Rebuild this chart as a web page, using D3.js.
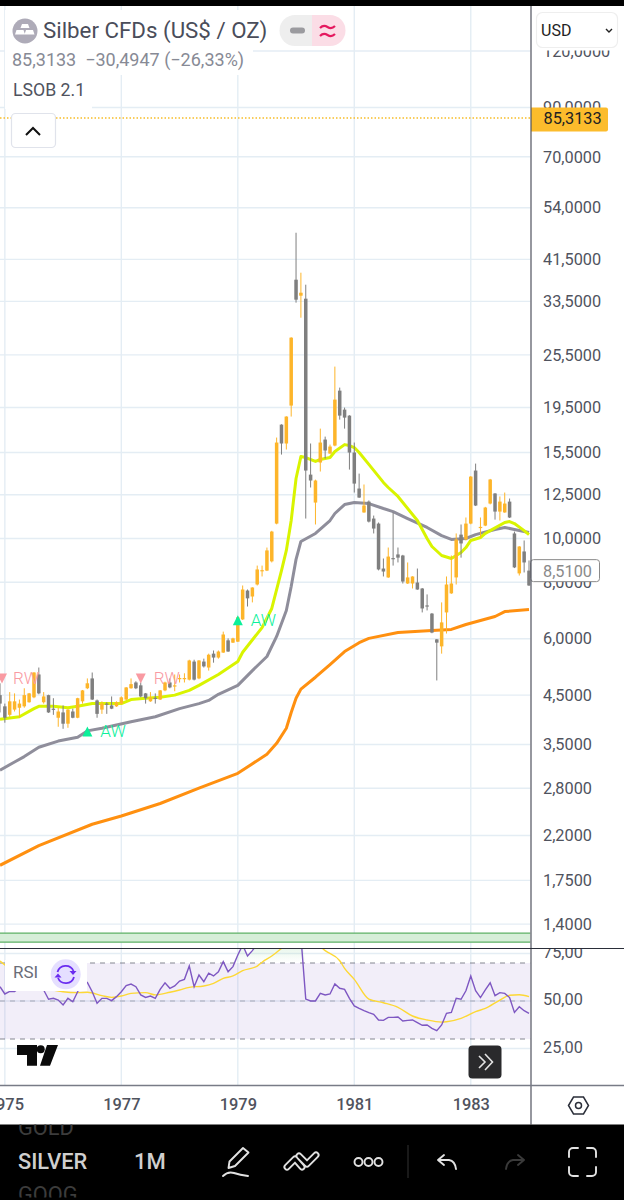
<!DOCTYPE html>
<html>
<head>
<meta charset="utf-8">
<script src="https://cdn.jsdelivr.net/npm/d3@7"></script>
<style>
  html, body { margin: 0; padding: 0; background: #fff; }
  svg { display: block; font-family: Roboto, sans-serif; }
</style>
</head>
<body>
<div id="chart"></div>
<script>
// monthly candles, index 0 = Dec 1974
const opens = [4.50,4.25,4.07,4.18,4.22,4.25,4.34,4.45,5.00,4.34,4.50,4.20,4.01,4.12,3.89,4.14,4.01,4.36,4.66,4.90,
  4.38,4.18,4.31,4.27,4.25,4.31,4.40,4.66,4.80,4.73,4.54,4.36,4.44,4.40,4.61,4.80,4.71,4.89,4.89,4.87,
  5.34,4.90,5.34,5.18,5.56,5.45,5.59,5.95,5.88,5.91,6.62,7.67,7.44,7.91,8.47,8.49,8.90,10.79,17.87,16.23,
  19.69,37.41,34.48,33.96,13.85,12.01,14.73,16.56,15.42,16.06,21.25,19.29,18.71,15.50,12.90,11.42,12.07,11.07,10.79,8.58,
  8.20,9.05,9.22,9.17,7.95,7.95,7.99,7.75,7.11,6.82,5.98,5.77,6.86,7.56,8.20,10.20,9.95,10.79,14.14,10.55,
  10.68,11.95,12.58,11.47,11.42,12.07,10.26,8.37,9.36,8.49];
const highs = [4.78,4.31,4.57,4.54,4.40,4.66,4.55,5.06,5.18,4.57,4.51,4.43,4.22,4.27,4.19,4.20,4.44,4.62,4.90,5.05,
  4.40,4.36,4.34,4.47,4.36,4.47,4.69,4.90,4.83,4.80,4.55,4.57,4.54,4.62,4.82,4.90,5.00,5.00,5.03,5.39,
  5.39,5.38,5.42,5.56,5.65,5.65,6.22,6.01,6.03,6.71,7.87,7.71,7.80,8.71,8.71,9.55,10.40,16.73,17.90,18.65,
  27.90,47.53,38.77,36.47,16.23,13.50,17.51,16.81,16.14,24.02,21.58,19.49,18.75,16.31,13.92,13.17,12.14,11.24,10.85,9.03,
  9.55,11.42,9.55,9.20,8.85,8.25,8.58,7.77,7.52,6.84,5.99,7.22,8.24,9.17,10.26,10.74,11.13,13.75,14.65,11.13,
  11.75,13.55,12.60,12.39,12.64,12.26,10.36,9.62,9.90,8.94];
const lows = [4.12,3.91,4.03,4.14,4.01,4.22,4.33,4.43,4.52,4.31,4.11,4.07,3.83,3.79,3.81,4.00,4.00,4.31,4.64,4.39,
  4.01,4.09,4.09,4.19,4.24,4.29,4.39,4.65,4.64,4.45,4.31,4.35,4.31,4.39,4.59,4.66,4.59,4.80,4.80,4.85,
  4.85,4.88,5.18,5.10,5.31,5.42,5.58,5.61,5.87,5.90,6.60,7.07,7.22,7.87,8.24,8.47,8.85,10.75,15.34,15.74,
  18.62,33.28,30.82,11.07,12.97,10.74,14.07,15.03,15.40,16.00,18.33,17.51,14.21,12.64,12.30,11.40,10.85,10.26,8.50,8.24,
  8.18,8.71,8.85,7.95,7.93,7.75,7.70,6.86,6.93,6.17,4.85,5.56,6.16,7.54,7.91,9.07,9.90,10.75,11.80,10.05,
  10.65,11.90,11.01,10.96,11.40,11.10,8.60,8.28,8.41,7.85];
const closes = [4.31,4.01,4.36,4.36,4.31,4.50,4.54,5.05,4.54,4.47,4.12,4.18,4.14,3.89,4.18,4.01,4.43,4.61,4.78,4.40,
  4.09,4.31,4.29,4.20,4.34,4.45,4.68,4.76,4.66,4.47,4.43,4.45,4.42,4.61,4.80,4.68,4.73,4.91,4.91,5.37,
  4.87,5.37,5.21,5.53,5.45,5.62,6.13,5.62,6.01,6.69,7.71,7.37,7.79,8.54,8.51,9.41,10.36,16.31,16.23,18.62,
  27.84,33.79,35.01,14.14,13.44,13.44,16.31,15.66,15.98,20.30,18.71,18.52,15.50,13.23,12.32,11.83,10.90,10.52,8.54,8.45,
  9.12,9.01,9.07,8.03,8.20,8.24,7.71,7.00,7.09,6.19,5.88,6.52,7.91,7.95,9.95,9.75,10.79,13.71,11.83,10.61,
  11.71,13.51,11.47,12.07,11.95,11.13,8.63,9.60,8.85,7.87];

const emaFastIdx = [0,4,7,8,11,14,16,19,22,25,27,30,33,36,39,41,45,49,50,54,56,58,59,60,61,62,63,65,66,68,69,71,72,73,74,76,79,80,82,86,88,89,91,93,95,96,97,99,100,101,104,105,106,108,109];
const emaFast = [3.98,4.03,4.20,4.25,4.25,4.22,4.25,4.31,4.31,4.31,4.40,4.43,4.45,4.50,4.61,4.73,5.00,5.34,5.60,6.35,7.00,8.49,9.41,10.96,13.58,15.19,15.11,14.81,14.96,15.11,15.58,16.14,16.06,15.90,15.50,14.59,13.31,12.97,12.39,10.96,10.00,9.60,9.17,9.03,9.31,9.55,9.90,10.05,10.26,10.41,10.85,10.90,10.79,10.41,10.20];
const emaMidIdx = [0,3,5,8,12,16,18,21,27,32,37,41,43,45,49,52,55,57,59,60,61,62,65,68,69,71,73,76,79,81,84,88,91,93,96,98,102,104,106,109];
const emaMid = [3.07,3.20,3.29,3.45,3.56,3.63,3.75,3.80,3.93,4.03,4.20,4.31,4.38,4.52,4.73,5.10,5.48,6.07,6.93,7.83,8.99,9.85,10.26,10.96,11.36,11.89,12.01,11.95,11.65,11.47,11.07,10.58,10.15,9.95,10.00,10.20,10.47,10.58,10.47,10.31];
const emaSlowIdx = [0,8,19,25,33,41,49,55,57,59,60,61,62,65,68,71,74,76,82,89,93,96,102,104,109];
const emaSlow = [1.89,2.09,2.33,2.43,2.59,2.80,3.02,3.33,3.52,3.80,4.12,4.43,4.64,4.93,5.26,5.62,5.88,6.01,6.19,6.26,6.29,6.45,6.72,6.89,6.96];

// RSI per month, the part above the pane is a guess
const rsiValues = [57.5,53.7,55,55,57,60,58,63,60,55.8,50.9,51.4,50.5,47.9,51.4,49.6,54.9,60,59.8,54.9,
  48.8,51.4,51.4,50.2,52.3,54.9,58.1,58.9,57.5,53.2,51.9,52.6,51.4,56.1,59.6,56.7,57.9,60.5,61.4,68.4,
  57.5,63.7,60.2,64.6,63.2,65.4,70.7,65.4,68.1,74.2,79.5,73.7,76.5,80,78,82,84,88,85,86,
  90,88,84,51,50,50,54,53.2,53.7,59,56.7,56.1,51.4,47.4,46.1,44.9,43.9,43,40,39.8,
  41.4,41.4,41.6,39.5,39.8,40,38.6,37.2,37.4,35.6,34.4,37.4,43.5,44,51.4,50.9,55.4,63.2,55.4,51.8,
  55.8,59.6,52.8,54.4,54,51.8,44,47,44.9,43.5];
const rsiMaIdx = [0,1,4,8,13,16,18,21,23,25,27,30,32,35,37,39,42,44,46,48,50,53,54,56,58,60,63,65,67,70,71,73,76,79,82,85,88,91,92,95,98,100,103,105,107,109];
const rsiMa = [71,69,64,58,54.9,54.4,54.6,52.8,51.9,52.6,54,54.4,53.2,54.6,55.8,57.2,57.9,59.3,61.9,63.2,66,68.4,70.4,73.7,77.7,82,84,81,76.5,71.2,67.2,61.4,51,49.1,46.7,42.1,40,38.9,39.1,40.9,44.4,46.1,50.5,53,53.3,52.3];

const priceTicks = [120,90,70,54,41.5,33.5,25.5,19.5,15.5,12.5,10,8,6,4.5,3.5,2.8,2.2,1.75,1.4];
const rsiTicks = [75,50,25];
const rsiLevels = [70,50,30];
const yearIdx = [1,25,49,73,97];
const yearLabels = ['1975','1977','1979','1981','1983'];
const zonePrices = [1.337,1.277];

const signalNames = ['RW','AW','RW','AW'];
const signalIdx = [0,18,29,49];
const signalPrices = [4.90,3.74,4.90,6.59];

const lastPrice = 85.3133;
const markPrice = 8.51;

const width = 624;
const height = 1200;
const paneRight = 530.5;
const axisX = 531;
const mainTop = 6;
const mainBottom = 948.5;
const rsiBottom = 1085.5;
const barBottom = 1124.5;

const colors = {
  grid: '#e4edf4',
  up: '#fdb52a',
  down: '#7f7f7f',
  fast: '#d9f400',
  mid: '#8f8e9b',
  slow: '#ff9010',
  text: '#50535e',
  rsi: '#7e57c2',
  rsiMa: '#fdd835',
  sell: '#f99aa2',
  buy: '#0cf09a',
};

const comma = d3.formatLocale({ decimal: ',', thousands: '.', grouping: [3], currency: ['', ''] });
const fmtPrice = comma.format('.4f');
const fmtRsi = comma.format('.2f');

const x = d3.scaleLinear().domain([0, 109]).range([0, 529]);
const y = d3.scaleLog().domain([10, 90]).range([538.5, 107.5]);
const yRsi = d3.scaleLinear().domain([50, 70]).range([1001, 963]);

const svg = d3.select('#chart').append('svg')
  .attr('width', width)
  .attr('height', height)
  .attr('viewBox', `0 0 ${width} ${height}`);

const defs = svg.append('defs');
defs.append('clipPath').attr('id', 'clip-main').append('rect')
  .attr('x', 0).attr('y', mainTop).attr('width', paneRight).attr('height', mainBottom - mainTop);
defs.append('clipPath').attr('id', 'clip-rsi').append('rect')
  .attr('x', 0).attr('y', mainBottom).attr('width', paneRight).attr('height', rsiBottom - mainBottom);
defs.append('clipPath').attr('id', 'clip-rsi-axis').append('rect')
  .attr('x', axisX).attr('y', mainBottom).attr('width', width - axisX).attr('height', rsiBottom - mainBottom);
const grad = defs.append('linearGradient').attr('id', 'ob-fill')
  .attr('x1', 0).attr('x2', 0).attr('y1', 0).attr('y2', 1);
grad.append('stop').attr('offset', '0%').attr('stop-color', '#9bd8a8').attr('stop-opacity', 0.55);
grad.append('stop').attr('offset', '100%').attr('stop-color', '#9bd8a8').attr('stop-opacity', 0);

// grid
const gridG = svg.append('g').attr('stroke', colors.grid).attr('stroke-width', 1.4);
gridG.selectAll('.h-price').data(priceTicks).enter().append('line')
  .attr('x1', 0).attr('x2', paneRight)
  .attr('y1', (d) => y(d)).attr('y2', (d) => y(d))
  .attr('clip-path', 'url(#clip-main)');
gridG.selectAll('.h-rsi').data(rsiTicks).enter().append('line')
  .attr('x1', 0).attr('x2', paneRight)
  .attr('y1', (d) => yRsi(d)).attr('y2', (d) => yRsi(d))
  .attr('clip-path', 'url(#clip-rsi)');
gridG.selectAll('.v').data(yearIdx).enter().append('line')
  .attr('x1', (d) => x(d)).attr('x2', (d) => x(d))
  .attr('y1', mainTop).attr('y2', rsiBottom);

// main pane
const main = svg.append('g').attr('clip-path', 'url(#clip-main)');

main.append('rect')
  .attr('x', 0).attr('width', paneRight)
  .attr('y', y(zonePrices[0]))
  .attr('height', y(zonePrices[1]) - y(zonePrices[0]))
  .attr('fill', '#d6eed8');
main.selectAll('.zone-line').data(zonePrices).enter().append('line')
  .attr('x1', 0).attr('x2', paneRight)
  .attr('y1', (d) => y(d)).attr('y2', (d) => y(d))
  .attr('stroke', '#5cb065').attr('stroke-width', 1.2);

const maLine = d3.line()
  .x((d) => x(d[0]))
  .y((d) => y(d[1]))
  .curve(d3.curveLinear);

const maSeries = [
  [emaSlowIdx, emaSlow, colors.slow],
  [emaMidIdx, emaMid, colors.mid],
  [emaFastIdx, emaFast, colors.fast],
];
maSeries.forEach(([idx, vals, col]) => {
  main.append('path')
    .attr('d', maLine(idx.map((d, i) => [d, vals[i]])))
    .attr('fill', 'none')
    .attr('stroke', col)
    .attr('stroke-width', 3)
    .attr('stroke-linejoin', 'round');
});

const candles = opens.map((o, i) => ({ i, o, h: highs[i], l: lows[i], c: closes[i] }));
const candleColor = (d) => (d.c >= d.o ? colors.up : colors.down);

main.selectAll('.wick').data(candles).enter().append('line')
  .attr('x1', (d) => x(d.i)).attr('x2', (d) => x(d.i))
  .attr('y1', (d) => y(d.h)).attr('y2', (d) => y(d.l))
  .attr('stroke', candleColor)
  .attr('stroke-width', 1);
main.selectAll('.body').data(candles).enter().append('rect')
  .attr('x', (d) => x(d.i) - 1.75)
  .attr('width', 3.5)
  .attr('y', (d) => y(Math.max(d.o, d.c)))
  .attr('height', (d) => Math.max(1.2, Math.abs(y(d.o) - y(d.c))))
  .attr('fill', candleColor);

// LSOB signals
const signals = signalNames.map((name, i) => ({ name, i: signalIdx[i], p: signalPrices[i] }));
const sigG = main.selectAll('.signal').data(signals).enter().append('g')
  .attr('transform', (d) => `translate(${x(d.i)},${y(d.p)})`);
sigG.append('path')
  .attr('d', (d) => (d.name === 'RW' ? 'M-5,-5 L5,-5 L0,5 Z' : 'M-5,5 L5,5 L0,-5 Z'))
  .attr('transform', (d) => (d.i === 0 ? 'translate(2,0)' : null))
  .attr('fill', (d) => (d.name === 'RW' ? colors.sell : colors.buy));
sigG.append('text')
  .attr('x', 13)
  .attr('y', 6)
  .attr('font-size', 17)
  .attr('font-weight', 300)
  .attr('fill', (d) => (d.name === 'RW' ? colors.sell : colors.buy))
  .text((d) => d.name);

main.append('line')
  .attr('x1', 0).attr('x2', paneRight)
  .attr('y1', y(lastPrice)).attr('y2', y(lastPrice))
  .attr('stroke', '#f7bd28')
  .attr('stroke-width', 1.5)
  .attr('stroke-dasharray', '1.5 2');

// RSI pane
const rsi = svg.append('g').attr('clip-path', 'url(#clip-rsi)');
rsi.append('rect')
  .attr('x', 0).attr('width', paneRight)
  .attr('y', yRsi(rsiLevels[0]))
  .attr('height', yRsi(rsiLevels[2]) - yRsi(rsiLevels[0]))
  .attr('fill', '#7e57c2')
  .attr('fill-opacity', 0.1);

const obArea = d3.area()
  .x((d, i) => x(i))
  .y0(yRsi(rsiLevels[0]))
  .y1((d) => yRsi(Math.max(d, rsiLevels[0])));
rsi.append('path')
  .attr('d', obArea(rsiValues))
  .attr('fill', 'url(#ob-fill)');

rsi.selectAll('.level').data(rsiLevels).enter().append('line')
  .attr('x1', 0).attr('x2', paneRight)
  .attr('y1', (d) => yRsi(d)).attr('y2', (d) => yRsi(d))
  .attr('stroke', '#787b86')
  .attr('stroke-opacity', (d) => (d === 50 ? 0.55 : 0.9))
  .attr('stroke-width', 1.2)
  .attr('stroke-dasharray', '5 5');

rsi.append('path')
  .attr('d', d3.line().x((d) => x(d[0])).y((d) => yRsi(d[1])).curve(d3.curveMonotoneX)(rsiMaIdx.map((d, i) => [d, rsiMa[i]])))
  .attr('fill', 'none')
  .attr('stroke', colors.rsiMa)
  .attr('stroke-width', 1.4);
rsi.append('path')
  .attr('d', d3.line().x((d, i) => x(i)).y((d) => yRsi(d))(rsiValues))
  .attr('fill', 'none')
  .attr('stroke', colors.rsi)
  .attr('stroke-width', 1.4);

// legend block
const legend = svg.append('g');
legend.append('rect').attr('x', 5).attr('y', 10).attr('width', 345).attr('height', 38).attr('fill', '#fff');
legend.append('rect').attr('x', 5).attr('y', 47).attr('width', 248).attr('height', 28).attr('fill', '#fff');
legend.append('rect').attr('x', 5).attr('y', 75).attr('width', 87).attr('height', 34).attr('fill', '#fff');

legend.append('circle').attr('cx', 25).attr('cy', 31).attr('r', 12.5).attr('fill', '#aeabb8');
legend.append('path')
  .attr('d', 'M22,24 h6 l1.5,4 h-9 Z M16.5,30 h7 l1.5,4.5 h-10 Z M26,30 h7 l1.5,4.5 h-10 Z')
  .attr('fill', '#fff');
legend.append('text')
  .attr('x', 43).attr('y', 38)
  .attr('font-size', 22.3)
  .attr('fill', '#4a4d5a')
  .text('Silber CFDs (US$ / OZ)');

legend.append('path')
  .attr('d', 'M312,15 h-17 a15.5,15.5 0 0 0 0,31 h17 Z')
  .attr('fill', '#eeeeee');
legend.append('path')
  .attr('d', 'M312,15 h18 a15.5,15.5 0 0 1 0,31 h-18 Z')
  .attr('fill', '#fbdde6');
legend.append('rect')
  .attr('x', 290).attr('y', 27.5).attr('width', 15).attr('height', 6).attr('rx', 3)
  .attr('fill', '#9b9b9f');
legend.append('path')
  .attr('d', 'M320,28 q3.5,-3.5 7.5,-1 t7.5,-1 M320,36 q3.5,-3.5 7.5,-1 t7.5,-1')
  .attr('fill', 'none')
  .attr('stroke', '#e5195f')
  .attr('stroke-width', 2.2);

legend.append('text')
  .attr('x', 12).attr('y', 66)
  .attr('font-size', 18)
  .attr('fill', '#878a95')
  .attr('xml:space', 'preserve')
  .text('85,3133  −30,4947 (−26,33%)');
legend.append('text')
  .attr('x', 13).attr('y', 96)
  .attr('font-size', 17.7)
  .attr('fill', colors.text)
  .text('LSOB 2.1');

legend.append('rect')
  .attr('x', 11.5).attr('y', 113.5).attr('width', 44).attr('height', 34).attr('rx', 4)
  .attr('fill', '#fff').attr('stroke', '#e0e3eb').attr('stroke-width', 1.2);
legend.append('path')
  .attr('d', 'M26,135 L33,128 L40,135')
  .attr('fill', 'none').attr('stroke', '#111').attr('stroke-width', 2);

// RSI badge
const badge = svg.append('g');
badge.append('rect').attr('x', 5).attr('y', 960).attr('width', 82).attr('height', 31).attr('fill', '#fff');
badge.append('text')
  .attr('x', 13).attr('y', 978)
  .attr('font-size', 17)
  .attr('fill', '#6a6d78')
  .text('RSI');
badge.append('circle').attr('cx', 65.7).attr('cy', 974.3).attr('r', 15).attr('fill', '#e5dfff');
badge.append('path')
  .attr('d', 'M57.5,972 a8.5,8.5 0 0 1 16,-1 M74,977 a8.5,8.5 0 0 1 -16,1')
  .attr('fill', 'none').attr('stroke', '#6a2cf0').attr('stroke-width', 1.8);
badge.append('path')
  .attr('d', 'M69.5,971 h7 l-3.5,4 Z M54.5,977.5 h7 l-3.5,-4 Z')
  .attr('fill', '#6a2cf0');

// logo and go-to-now button
svg.append('path')
  .attr('d', 'M17,1045 h20 v20.7 h-10 v-10.7 h-10 Z M47,1045 h11 l-8,20.7 h-10 Z')
  .attr('fill', '#0a0a0a');
svg.append('circle').attr('cx', 40.7).attr('cy', 1049.3).attr('r', 4).attr('fill', '#0a0a0a');
svg.append('rect')
  .attr('x', 468.5).attr('y', 1045.5).attr('width', 33).attr('height', 33).attr('rx', 4)
  .attr('fill', '#2a2a2c');
svg.append('path')
  .attr('d', 'M479,1056 l6,6 l-6,6 M485,1054 l7.5,8 l-7.5,8')
  .attr('fill', 'none').attr('stroke', '#e4e4e4').attr('stroke-width', 1.6);

// price axis
const axisPanel = svg.append('g');
axisPanel.append('rect')
  .attr('x', axisX).attr('y', mainTop).attr('width', width - axisX).attr('height', rsiBottom - mainTop)
  .attr('fill', '#fff');

const priceAxis = d3.axisRight(y)
  .tickValues(priceTicks)
  .tickFormat((d) => fmtPrice(d))
  .tickSize(0)
  .tickPadding(0);
const priceAxisG = svg.append('g')
  .attr('transform', 'translate(543,0)')
  .call(priceAxis);
priceAxisG.select('.domain').remove();
priceAxisG.selectAll('text')
  .attr('font-family', 'Roboto, sans-serif')
  .attr('font-size', 16.3)
  .attr('fill', colors.text);

const rsiAxis = d3.axisRight(yRsi)
  .tickValues(rsiTicks)
  .tickFormat((d) => fmtRsi(d))
  .tickSize(0)
  .tickPadding(0);
const rsiAxisClip = svg.append('g').attr('clip-path', 'url(#clip-rsi-axis)');
const rsiAxisG = rsiAxisClip.append('g')
  .attr('transform', 'translate(543,-1.5)')
  .call(rsiAxis);
rsiAxisG.select('.domain').remove();
rsiAxisG.selectAll('text')
  .attr('font-family', 'Roboto, sans-serif')
  .attr('font-size', 16.3)
  .attr('fill', colors.text);

// time axis
const timeAxis = d3.axisBottom(x)
  .tickValues(yearIdx)
  .tickFormat((d, i) => yearLabels[i])
  .tickSize(0)
  .tickPadding(0);
const timeAxisG = svg.append('g')
  .attr('transform', 'translate(0,1098.5)')
  .call(timeAxis);
timeAxisG.select('.domain').remove();
timeAxisG.selectAll('text')
  .attr('font-family', 'Roboto, sans-serif')
  .attr('font-size', 16.4)
  .attr('font-weight', 500)
  .attr('fill', colors.text);

// price tags
svg.append('path')
  .attr('d', `M${axisX},${y(lastPrice) - 10.5} h75 a2,2 0 0 1 2,2 v20 a2,2 0 0 1 -2,2 h-75 Z`)
  .attr('fill', '#fcbc2c');
svg.append('text')
  .attr('x', 543.5).attr('y', y(lastPrice) + 6)
  .attr('font-size', 16.3)
  .attr('fill', '#222')
  .text(fmtPrice(lastPrice));

svg.append('rect')
  .attr('x', axisX - 0.5).attr('y', y(markPrice) - 10.5).attr('width', 69).attr('height', 22).attr('rx', 3)
  .attr('fill', '#fff').attr('stroke', '#8a8a8a').attr('stroke-width', 1);
svg.append('text')
  .attr('x', 543).attr('y', y(markPrice) + 6.5)
  .attr('font-size', 16.3)
  .attr('fill', '#8a8a8a')
  .text(fmtPrice(markPrice));

// currency box, its panel hides the top of the 120 label
svg.append('rect')
  .attr('x', axisX + 0.5).attr('y', mainTop).attr('width', width - axisX).attr('height', 44.5)
  .attr('fill', '#fff');
svg.append('rect')
  .attr('x', 536.5).attr('y', 12.5).attr('width', 81).attr('height', 35).attr('rx', 6)
  .attr('fill', '#fff').attr('stroke', '#eeeeee').attr('stroke-width', 1.2);
svg.append('text')
  .attr('x', 541).attr('y', 36)
  .attr('font-size', 16)
  .attr('fill', '#222')
  .text('USD');
svg.append('path')
  .attr('d', 'M606,29 l3,3 l3,-3')
  .attr('fill', 'none').attr('stroke', '#222').attr('stroke-width', 1.4);

// hexagon settings icon
svg.append('path')
  .attr('d', 'M568.5,1105.5 l5,-8.5 h10 l5,8.5 l-5,8.5 h-10 Z')
  .attr('fill', 'none').attr('stroke', '#2a2e39').attr('stroke-width', 1.5);
svg.append('circle').attr('cx', 578.5).attr('cy', 1105.5).attr('r', 3)
  .attr('fill', 'none').attr('stroke', '#2a2e39').attr('stroke-width', 1.5);

// pane borders
const borders = svg.append('g');
borders.append('line').attr('x1', axisX).attr('x2', axisX).attr('y1', mainTop).attr('y2', barBottom)
  .attr('stroke', '#50535e').attr('stroke-width', 1.2);
borders.append('line').attr('x1', 0).attr('x2', width).attr('y1', mainBottom).attr('y2', mainBottom)
  .attr('stroke', '#2a2e39').attr('stroke-width', 1.2);
borders.append('line').attr('x1', 0).attr('x2', width).attr('y1', rsiBottom).attr('y2', rsiBottom)
  .attr('stroke', '#787b86').attr('stroke-width', 1.6);

// top and bottom app bars
svg.append('rect').attr('x', 0).attr('y', 0).attr('width', width).attr('height', mainTop).attr('fill', '#000');
const bar = svg.append('g');
bar.append('rect').attr('x', 0).attr('y', barBottom).attr('width', width).attr('height', height - barBottom).attr('fill', '#000');

const barClip = defs.append('clipPath').attr('id', 'clip-bar');
barClip.append('rect').attr('x', 0).attr('y', barBottom).attr('width', width).attr('height', 73);
const picker = bar.append('g').attr('clip-path', 'url(#clip-bar)');
picker.append('text').attr('x', 18).attr('y', 1135).attr('font-size', 21.8).attr('fill', '#3c3c3c').text('GOLD');
picker.append('text').attr('x', 18).attr('y', 1169).attr('font-size', 21.8).attr('font-weight', 500).attr('fill', '#cfcfcf').text('SILVER');
picker.append('text').attr('x', 18).attr('y', 1202).attr('font-size', 21.8).attr('fill', '#3c3c3c').text('GOOG');
bar.append('text').attr('x', 134).attr('y', 1169).attr('font-size', 22).attr('font-weight', 500).attr('fill', '#cfcfcf').text('1M');

const icons = bar.append('g')
  .attr('fill', 'none')
  .attr('stroke', '#e2e2e2')
  .attr('stroke-width', 1.9)
  .attr('stroke-linecap', 'round')
  .attr('stroke-linejoin', 'round');
icons.append('path').attr('d', 'M228.5,1168 l1,-6.5 L243,1148 l5.5,4.5 L235,1166 Z M223,1176 q5,-5 11,-3 t14,3');
// drawings icon: white capsule with a black core
const chevrons = 'M287,1167 L295,1159 L302,1167 M299,1156 L307,1164 L316,1155';
icons.append('path').attr('d', chevrons).attr('stroke-width', 7);
icons.append('path').attr('d', chevrons).attr('stroke', '#000').attr('stroke-width', 3.2);
[358.5, 368.5, 378.5].forEach((cx) => {
  icons.append('circle').attr('cx', cx).attr('cy', 1162).attr('r', 4);
});
icons.append('path').attr('d', 'M444,1155 l-6,5 l6,5 M438,1160 h11 q6,1 7,9');
icons.append('path').attr('d', 'M518,1155 l6,5 l-6,5 M524,1160 h-11 q-6,1 -7,9').attr('stroke', '#3a3a3a');
icons.append('path').attr('d', 'M569,1157 v-5 a4,4 0 0 1 4,-4 h5 M587,1148 h5 a4,4 0 0 1 4,4 v5 M596,1167 v5 a4,4 0 0 1 -4,4 h-5 M578,1176 h-5 a4,4 0 0 1 -4,-4 v-5');
bar.append('line').attr('x1', 408).attr('x2', 408).attr('y1', 1145).attr('y2', 1178).attr('stroke', '#333');
</script>
</body>
</html>
